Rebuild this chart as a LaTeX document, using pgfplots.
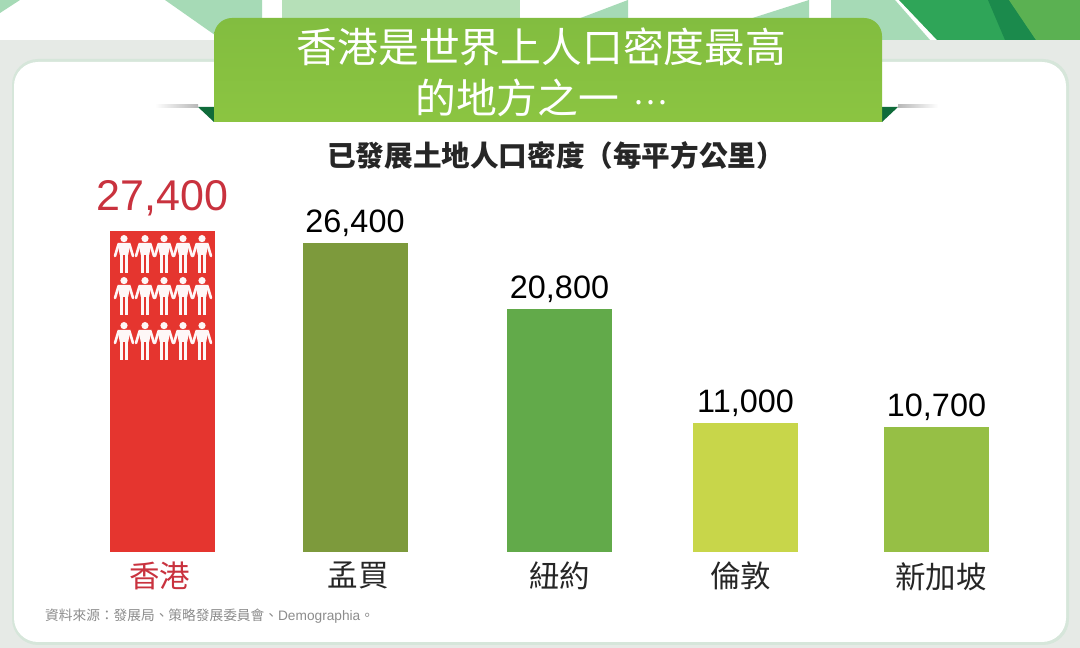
\documentclass[border=0pt]{standalone}
\usepackage{fontspec}
\usepackage{pgfplots}
\pgfplotsset{compat=1.18}
\setmainfont{Liberation Sans}
\newfontfamily\cjk{Noto Sans CJK TC}
\definecolor{hdrT}{HTML}{82BD40}
\definecolor{hdrB}{HTML}{8DC641}
\definecolor{band}{HTML}{E6EAE6}
\definecolor{edge}{HTML}{D6E6DA}
\definecolor{tA}{HTML}{B6E0B8}
\definecolor{tB}{HTML}{A6DAB6}
\definecolor{gA}{HTML}{2FA558}
\definecolor{gB}{HTML}{1B8A4C}
\definecolor{gC}{HTML}{5BB152}
\definecolor{fold}{HTML}{0F6B3A}
\definecolor{hk}{HTML}{E5352F}
\definecolor{hkt}{HTML}{C9323E}
\definecolor{mum}{HTML}{7D9A3C}
\definecolor{ny}{HTML}{62AA4A}
\definecolor{lon}{HTML}{C8D64A}
\definecolor{sg}{HTML}{96BF45}
\newcommand{\fs}[1]{\fontsize{#1}{#1}\selectfont}
\pgfplotsset{onebar/.style={ybar,bar shift=0pt,bar width=105pt,draw=none,fill=#1}}
\begin{document}
\begin{tikzpicture}
\path[use as bounding box] (0,0) rectangle (1080pt,648pt);
\begin{scope}[x=1pt,y=-1pt,shift={(0pt,648pt)}]
  % page decoration
  \fill[white] (0,0) rectangle (1080,648);
  \fill[tB] (0,0) -- (20,0) -- (0,13) -- cycle;
  \fill[tB] (165,0) -- (262,0) -- (262,40) -- (222,40) -- cycle;
  \fill[tA] (282,0) -- (520,0) -- (520,22) -- (282,22) -- cycle;
  \fill[tB] (570,22) -- (628,0) -- (628,22) -- cycle;
  \fill[tB] (740,22) -- (809,0) -- (809,22) -- cycle;
  \fill[tB] (831,0) -- (895,0) -- (930,40) -- (831,40) -- cycle;
  \fill[gA] (899,0) -- (1080,0) -- (1080,40) -- (937,40) -- cycle;
  \fill[gB] (988,0) -- (1009,0) -- (1036,40) -- (1005,40) -- cycle;
  \fill[gC] (1009,0) -- (1080,0) -- (1080,40) -- (1036,40) -- cycle;
  \fill[band] (0,40) rectangle (1080,648);
  \fill[edge,rounded corners=26pt] (12,59) rectangle (1069,645);
  \fill[white,rounded corners=24pt] (14,62) rectangle (1066,642);
  % ribbon
  \shade[left color=white,right color=black!28] (155,105) rectangle (198,108);
  \shade[right color=white,left color=black!28] (898,105) rectangle (938,108);
  \fill[fold] (198,107) -- (214,107) -- (214,122) -- cycle;
  \fill[fold] (898,107) -- (882,107) -- (882,122) -- cycle;
  \shade[top color=hdrT,bottom color=hdrB,rounded corners=18pt] (214,142) -- (214,18) -- (882,18) -- (882,142) -- cycle;
  \fill[white] (205,122) rectangle (890,144);
  \node[white,inner sep=0pt] at (541.5,47) {\cjk\fs{40.8}香港是世界上人口密度最高};
  \node[white,inner sep=0pt,anchor=west] at (415,98) {\cjk\fs{40.8}的地方之一\hspace{14pt}\raisebox{9pt}{\fs{32}⋯}};
  \node[black!85,inner sep=0pt] at (556,156) {\cjk\bfseries\fs{28.6}已發展土地人口密度（每平方公里）};
  \node[black!45,inner sep=0pt,anchor=west] at (45,616) {\cjk\fs{13.7}資料來源：發展局、策略發展委員會、{\rmfamily Demographia}。};
\end{scope}
\begin{axis}[
  at={(0pt,96pt)},anchor=south west,
  scale only axis,width=1080pt,height=552pt,
  xmin=0,xmax=1080,ymin=0,ymax=47179,
  axis line style={draw=none},major tick length=0pt,
  ytick=\empty,
  xtick={159.5,358,559.5,740.5,941},
  xticklabels={{\textcolor{hkt}{香港}},孟買,紐約,倫敦,新加坡},
  xticklabel style={font=\cjk\fs{30.5},text=black!85,inner sep=0pt,yshift=-10pt},
  clip=false,
  nodes near coords={\pgfmathprintnumber[assume math mode=true,1000 sep={,}]{\pgfplotspointmeta}},
  point meta=y,
  every node near coord/.append style={font=\fs{32.4},text=black,inner sep=0pt,anchor=south,yshift=6pt},
]
\addplot[onebar=hk,every node near coord/.append style={font=\fs{43},text=hkt,yshift=9pt}] coordinates {(162.5,27400)};
\addplot[onebar=mum] coordinates {(355,26400)};
\addplot[onebar=ny] coordinates {(559.5,20800)};
\addplot[onebar=lon] coordinates {(745.5,11000)};
\addplot[onebar=sg] coordinates {(936.5,10700)};
\end{axis}
\begin{scope}[x=1pt,y=-1pt,shift={(0pt,648pt)}]
  \foreach \yy in {235,277,322}{
    \foreach \xx in {124,145,164,183,202}{
      \begin{scope}[shift={(\xx,\yy)}]
        \fill[white!96!hk] (0,3.6) circle (3.6);
        \fill[white!96!hk] (-6.5,8) -- (6.5,8) -- (4.2,20) -- (-4.2,20) -- cycle;
        \fill[white!96!hk] (-4.2,20) rectangle (-0.7,38);
        \fill[white!96!hk] (0.7,20) rectangle (4.2,38);
        \draw[white!96!hk,line width=2.6pt,line cap=round] (-5.5,9.3) -- (-9,21);
        \draw[white!96!hk,line width=2.6pt,line cap=round] (5.5,9.3) -- (9,21);
      \end{scope}
    }
  }
\end{scope}
\end{tikzpicture}
\end{document}
